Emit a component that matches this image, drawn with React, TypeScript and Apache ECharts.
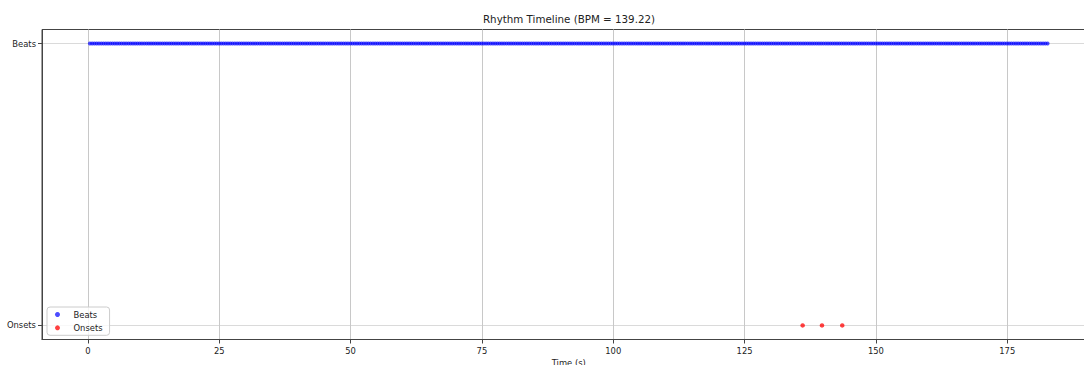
import React, { useEffect, useRef } from 'react';
import * as echarts from 'echarts';

const BEAT_TIMES: number[] = [
  0.37, 0.80, 1.23, 1.66, 2.09, 2.53, 2.96, 3.39, 3.82, 4.25,
  4.68, 5.11, 5.54, 5.97, 6.40, 6.84, 7.27, 7.70, 8.13, 8.56,
  8.99, 9.42, 9.85, 10.28, 10.71, 11.15, 11.58, 12.01, 12.44, 12.87,
  13.30, 13.73, 14.16, 14.59, 15.02, 15.46, 15.89, 16.32, 16.75, 17.18,
  17.61, 18.04, 18.47, 18.90, 19.33, 19.77, 20.20, 20.63, 21.06, 21.49,
  21.92, 22.35, 22.78, 23.21, 23.64, 24.08, 24.51, 24.94, 25.37, 25.80,
  26.23, 26.66, 27.09, 27.52, 27.95, 28.39, 28.82, 29.25, 29.68, 30.11,
  30.54, 30.97, 31.40, 31.83, 32.26, 32.70, 33.13, 33.56, 33.99, 34.42,
  34.85, 35.28, 35.71, 36.14, 36.57, 37.01, 37.44, 37.87, 38.30, 38.73,
  39.16, 39.59, 40.02, 40.45, 40.88, 41.32, 41.75, 42.18, 42.61, 43.04,
  43.47, 43.90, 44.33, 44.76, 45.19, 45.63, 46.06, 46.49, 46.92, 47.35,
  47.78, 48.21, 48.64, 49.07, 49.50, 49.94, 50.37, 50.80, 51.23, 51.66,
  52.09, 52.52, 52.95, 53.38, 53.81, 54.25, 54.68, 55.11, 55.54, 55.97,
  56.40, 56.83, 57.26, 57.69, 58.12, 58.56, 58.99, 59.42, 59.85, 60.28,
  60.71, 61.14, 61.57, 62.00, 62.43, 62.87, 63.30, 63.73, 64.16, 64.59,
  65.02, 65.45, 65.88, 66.31, 66.74, 67.18, 67.61, 68.04, 68.47, 68.90,
  69.33, 69.76, 70.19, 70.62, 71.05, 71.49, 71.92, 72.35, 72.78, 73.21,
  73.64, 74.07, 74.50, 74.93, 75.36, 75.80, 76.23, 76.66, 77.09, 77.52,
  77.95, 78.38, 78.81, 79.24, 79.67, 80.11, 80.54, 80.97, 81.40, 81.83,
  82.26, 82.69, 83.12, 83.55, 83.98, 84.42, 84.85, 85.28, 85.71, 86.14,
  86.57, 87.00, 87.43, 87.86, 88.29, 88.73, 89.16, 89.59, 90.02, 90.45,
  90.88, 91.31, 91.74, 92.17, 92.60, 93.04, 93.47, 93.90, 94.33, 94.76,
  95.19, 95.62, 96.05, 96.48, 96.91, 97.35, 97.78, 98.21, 98.64, 99.07,
  99.50, 99.93, 100.36, 100.79, 101.22, 101.66, 102.09, 102.52, 102.95, 103.38,
  103.81, 104.24, 104.67, 105.10, 105.53, 105.97, 106.40, 106.83, 107.26, 107.69,
  108.12, 108.55, 108.98, 109.41, 109.84, 110.28, 110.71, 111.14, 111.57, 112.00,
  112.43, 112.86, 113.29, 113.72, 114.15, 114.59, 115.02, 115.45, 115.88, 116.31,
  116.74, 117.17, 117.60, 118.03, 118.46, 118.90, 119.33, 119.76, 120.19, 120.62,
  121.05, 121.48, 121.91, 122.34, 122.77, 123.21, 123.64, 124.07, 124.50, 124.93,
  125.36, 125.79, 126.22, 126.65, 127.08, 127.52, 127.95, 128.38, 128.81, 129.24,
  129.67, 130.10, 130.53, 130.96, 131.39, 131.83, 132.26, 132.69, 133.12, 133.55,
  133.98, 134.41, 134.84, 135.27, 135.70, 136.14, 136.57, 137.00, 137.43, 137.86,
  138.29, 138.72, 139.15, 139.58, 140.01, 140.45, 140.88, 141.31, 141.74, 142.17,
  142.60, 143.03, 143.46, 143.89, 144.32, 144.76, 145.19, 145.62, 146.05, 146.48,
  146.91, 147.34, 147.77, 148.20, 148.63, 149.07, 149.50, 149.93, 150.36, 150.79,
  151.22, 151.65, 152.08, 152.51, 152.94, 153.38, 153.81, 154.24, 154.67, 155.10,
  155.53, 155.96, 156.39, 156.82, 157.25, 157.69, 158.12, 158.55, 158.98, 159.41,
  159.84, 160.27, 160.70, 161.13, 161.56, 162.00, 162.43, 162.86, 163.29, 163.72,
  164.15, 164.58, 165.01, 165.44, 165.87, 166.31, 166.74, 167.17, 167.60, 168.03,
  168.46, 168.89, 169.32, 169.75, 170.18, 170.62, 171.05, 171.48, 171.91, 172.34,
  172.77, 173.20, 173.63, 174.06, 174.49, 174.93, 175.36, 175.79, 176.22, 176.65,
  177.08, 177.51, 177.94, 178.37, 178.80, 179.24, 179.67, 180.10, 180.53, 180.96,
  181.39, 181.82, 182.25, 182.68,
];

const ONSET_TIMES: number[] = [136.05, 139.73, 143.59];

const X_TICKS: number[] = [0, 25, 50, 75, 100, 125, 150, 175];
const Y_LEVELS: number[] = [0, 1];
const Y_LABELS: string[] = ['Onsets', 'Beats'];
const TITLE = 'Rhythm Timeline (BPM = 139.22)';
const X_NAME = 'Time (s)';

export default function App() {
  const ref = useRef<HTMLDivElement>(null);

  useEffect(() => {
    if (!ref.current) return;
    const chart = echarts.init(ref.current, null, { renderer: 'svg' });
    const font = 'DejaVu Sans';
    const textColor = '#222';
    const spine = '#444';
    const tickFont = 8.4;

    chart.setOption({
      animation: false,
      backgroundColor: '#ffffff',
      textStyle: { fontFamily: font },
      title: {
        text: TITLE,
        left: 569,
        top: 14,
        textAlign: 'center',
        padding: 0,
        textStyle: { fontFamily: font, fontSize: 10.3, fontWeight: 'normal', color: textColor },
      },
      legend: {
        orient: 'vertical',
        left: 47,
        top: 307,
        icon: 'circle',
        itemWidth: 5,
        itemHeight: 5,
        itemGap: 2.3,
        padding: [2, 7, 2, 8],
        borderColor: '#cccccc',
        borderWidth: 1,
        borderRadius: 3,
        backgroundColor: 'rgba(255,255,255,0.8)',
        data: ['Beats', 'Onsets'],
        textStyle: { fontFamily: font, fontSize: tickFont, color: textColor, padding: [0, 0, 0, 8.5], lineHeight: 11 },
      },
      grid: {
        left: 42,
        top: 29.5,
        width: 1053.5,
        height: 310,
        show: true,
        borderColor: spine,
        borderWidth: 1,
        backgroundColor: 'transparent',
        containLabel: false,
        outerBoundsMode: 'none',
      },
      xAxis: {
        type: 'value',
        min: -8.75,
        max: 191.8,
        name: X_NAME,
        nameLocation: 'middle',
        nameGap: 12,
        nameTextStyle: { fontFamily: font, fontSize: tickFont, color: textColor },
        axisLine: { show: true, onZero: false, lineStyle: { color: spine, width: 1 } },
        axisTick: { show: true, customValues: X_TICKS, length: 4, lineStyle: { color: spine } },
        axisLabel: { customValues: X_TICKS, fontFamily: font, fontSize: tickFont, color: textColor, margin: 7 },
        splitLine: { show: true, lineStyle: { color: '#c8c8c8', width: 1 } },
      },
      yAxis: {
        type: 'value',
        min: -0.05,
        max: 1.05,
        axisLine: { show: true, onZero: false, lineStyle: { color: spine, width: 1 } },
        axisTick: { show: true, customValues: Y_LEVELS, length: 4, lineStyle: { color: spine } },
        axisLabel: {
          customValues: Y_LEVELS,
          fontFamily: font,
          fontSize: tickFont,
          color: textColor,
          margin: 6,
          formatter: (v: number) => Y_LABELS[Y_LEVELS.indexOf(v)] ?? '',
        },
        splitLine: { show: true, lineStyle: { color: '#dadada', width: 1 } },
      },
      series: [
        {
          name: 'Beats',
          type: 'scatter',
          symbol: 'circle',
          symbolSize: 4,
          itemStyle: { color: '#0000ff', opacity: 0.7 },
          data: BEAT_TIMES.map((t) => [t, 1]),
        },
        {
          name: 'Onsets',
          type: 'scatter',
          symbol: 'circle',
          symbolSize: 4.5,
          itemStyle: { color: '#ff0000', opacity: 0.75 },
          data: ONSET_TIMES.map((t) => [t, 0]),
        },
      ],
    });

    return () => {
      chart.dispose();
    };
  }, []);

  return (
    <div
      ref={ref}
      style={{ position: 'absolute', left: 0, top: 0, width: 1084, height: 365 }}
    />
  );
}
